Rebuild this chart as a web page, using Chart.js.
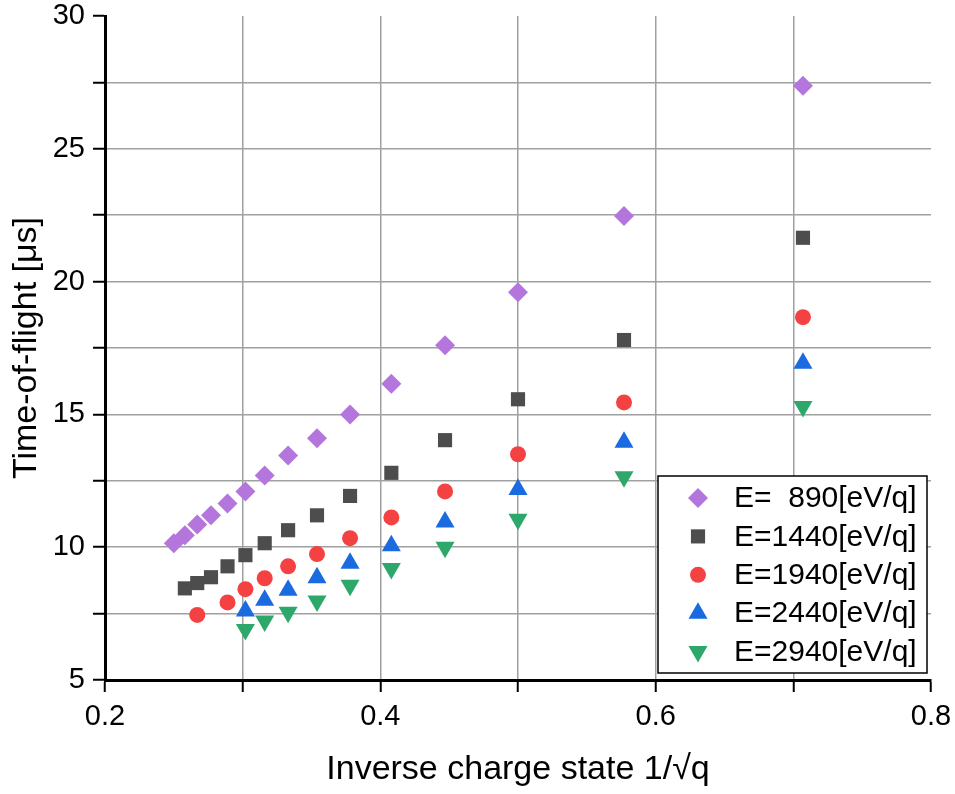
<!DOCTYPE html>
<html lang="en">
<head>
<meta charset="utf-8">
<title>Time-of-flight vs inverse charge state</title>
<script src="https://cdn.jsdelivr.net/npm/chart.js@4.4.1/dist/chart.umd.min.js"></script>
<style>
    html, body { margin: 0; padding: 0; background: #ffffff; }
    #wrap { width: 955px; height: 794px; }
</style>
</head>
<body>
<div id="wrap"><canvas id="tofChart" width="955" height="794"></canvas></div>
<script>
// Inverse charge state 1/sqrt(q) for q = 16 ... 2
const invQ890  = [0.250, 0.258, 0.267, 0.277, 0.289, 0.302, 0.316, 0.333, 0.354, 0.378, 0.408, 0.447, 0.500, 0.577, 0.707];
const invQ1440 = [0.258, 0.267, 0.277, 0.289, 0.302, 0.316, 0.333, 0.354, 0.378, 0.408, 0.447, 0.500, 0.577, 0.707];
const invQ1940 = [0.267, 0.289, 0.302, 0.316, 0.333, 0.354, 0.378, 0.408, 0.447, 0.500, 0.577, 0.707];
const invQ2440 = [0.302, 0.316, 0.333, 0.354, 0.378, 0.408, 0.447, 0.500, 0.577, 0.707];
const invQ2940 = [0.302, 0.316, 0.333, 0.354, 0.378, 0.408, 0.447, 0.500, 0.577, 0.707];

// Measured time-of-flight [us] for each extraction energy
const tof890  = [10.15, 10.45, 10.85, 11.2, 11.65, 12.1, 12.7, 13.45, 14.1, 15.0, 16.15, 17.6, 19.6, 22.47, 27.37];
const tof1440 = [8.45, 8.65, 8.87, 9.28, 9.7, 10.15, 10.64, 11.2, 11.93, 12.8, 14.03, 15.57, 17.8, 21.65];
const tof1940 = [7.45, 7.92, 8.42, 8.83, 9.28, 9.74, 10.34, 11.12, 12.1, 13.5, 15.45, 18.66];
const tof2440 = [7.6, 8.0, 8.38, 8.85, 9.4, 10.05, 10.95, 12.17, 13.95, 16.93];
const tof2940 = [6.9, 7.22, 7.55, 7.97, 8.57, 9.2, 10.0, 11.05, 12.65, 15.3];

const seriesLabels = ['E=  890[eV/q]', 'E=1440[eV/q]', 'E=1940[eV/q]', 'E=2440[eV/q]', 'E=2940[eV/q]'];

// Axis ranges and tick steps
const xRange = [0.2, 0.8];
const yRange = [5, 30];
const xStep = 0.1;
const yStep = 2.5;

const FONT = "'Liberation Sans', Arial, Helvetica, sans-serif";

function toPoints(xs, ys) {
    return xs.map(function (x, i) { return { x: x, y: ys[i] }; });
}

function makeDataset(label, xs, ys, color, style, radius, rotation) {
    return {
        label: label,
        data: toPoints(xs, ys),
        backgroundColor: color,
        borderColor: color,
        pointStyle: style,
        pointRadius: radius,
        pointHoverRadius: radius,
        pointRotation: rotation,
        pointBorderWidth: 0,
        showLine: false
    };
}

const datasets = [
    makeDataset(seriesLabels[0], invQ890,  tof890,  '#b476dc', 'rectRot',  10, 0),
    makeDataset(seriesLabels[1], invQ1440, tof1440, '#4d4d4d', 'rect',     10, 0),
    makeDataset(seriesLabels[2], invQ1940, tof1940, '#f44242', 'circle',   8,  0),
    makeDataset(seriesLabels[3], invQ2440, tof2440, '#1a6ae0', 'triangle', 11, 0),
    makeDataset(seriesLabels[4], invQ2940, tof2940, '#2ea86a', 'triangle', 11, 180)
];

// Legend drawn inside the plot area, lower right corner, with a framed white box
const boxLegend = {
    id: 'boxLegend',
    afterDraw: function (chart) {
        const ctx = chart.ctx;
        const area = chart.chartArea;
        const w = 269, h = 197;
        const left = area.right - 4 - w;
        const top = area.bottom - 7 - h;

        ctx.save();
        ctx.fillStyle = '#ffffff';
        ctx.fillRect(left, top, w, h);
        ctx.strokeStyle = '#000000';
        ctx.lineWidth = 1.5;
        ctx.strokeRect(left, top, w, h);

        ctx.font = '30px ' + FONT;
        ctx.textBaseline = 'middle';
        ctx.textAlign = 'left';

        chart.data.datasets.forEach(function (ds, i) {
            const cy = top + 22 + i * 38.4;
            ctx.fillStyle = ds.backgroundColor;
            ctx.strokeStyle = ds.borderColor;
            Chart.helpers.drawPoint(ctx, {
                pointStyle: ds.pointStyle,
                radius: ds.pointRadius,
                rotation: ds.pointRotation,
                borderWidth: 0
            }, left + 40, cy);
            ctx.fillStyle = '#000000';
            ctx.fillText(ds.label, left + 76, cy + 1);
        });
        ctx.restore();
    }
};

// Gridlines hidden on the plot edges (axis lines cover the lower/left ones)
function gridColor(range) {
    return function (c) {
        const v = c.tick ? c.tick.value : 0;
        return (v <= range[0] + 1e-6 || v >= range[1] - 1e-6) ? 'rgba(0,0,0,0)' : '#a0a0a0';
    };
}

function inicializarGrafico() {
    const ctx = document.getElementById('tofChart').getContext('2d');

    new Chart(ctx, {
        type: 'scatter',
        data: { datasets: datasets },
        options: {
            responsive: false,
            animation: false,
            layout: { padding: { top: 16, right: 24, left: 0, bottom: 0 } },
            plugins: {
                legend: { display: false },
                tooltip: { enabled: false }
            },
            scales: {
                x: {
                    type: 'linear',
                    min: xRange[0],
                    max: xRange[1],
                    afterFit: function (scale) {
                        scale.height = 114;
                        scale.paddingLeft = 0;
                        scale.paddingRight = 0;
                    },
                    ticks: {
                        stepSize: xStep,
                        color: '#000000',
                        font: { family: FONT, size: 29 },
                        padding: 8,
                        maxRotation: 0,
                        autoSkip: false,
                        callback: function (v) {
                            return Math.round(v * 10) % 2 === 0 ? v.toFixed(1) : '';
                        }
                    },
                    grid: {
                        color: gridColor(xRange),
                        lineWidth: 1.5,
                        tickColor: '#000000',
                        tickWidth: 2,
                        tickLength: 12
                    },
                    border: { display: true, color: '#000000', width: 3 },
                    title: {
                        display: true,
                        text: 'Inverse charge state 1/\u221Aq',
                        color: '#000000',
                        font: { family: FONT, size: 34 },
                        padding: { top: 0, bottom: 4 }
                    }
                },
                y: {
                    type: 'linear',
                    min: yRange[0],
                    max: yRange[1],
                    afterFit: function (scale) {
                        scale.width = 105;
                        scale.paddingTop = 0;
                        scale.paddingBottom = 0;
                    },
                    ticks: {
                        stepSize: yStep,
                        color: '#000000',
                        font: { family: FONT, size: 29 },
                        padding: 8,
                        autoSkip: false,
                        callback: function (v) {
                            return v % 5 === 0 ? String(v) : '';
                        }
                    },
                    grid: {
                        color: gridColor(yRange),
                        lineWidth: 1.5,
                        tickColor: '#000000',
                        tickWidth: 2,
                        tickLength: 12
                    },
                    border: { display: true, color: '#000000', width: 3 },
                    title: {
                        display: true,
                        text: 'Time-of-flight [\u03BCs]',
                        color: '#000000',
                        font: { family: FONT, size: 34 },
                        padding: { top: 6, bottom: 0 }
                    }
                }
            }
        },
        plugins: [boxLegend]
    });
}

document.addEventListener('DOMContentLoaded', inicializarGrafico);
</script>
</body>
</html>
